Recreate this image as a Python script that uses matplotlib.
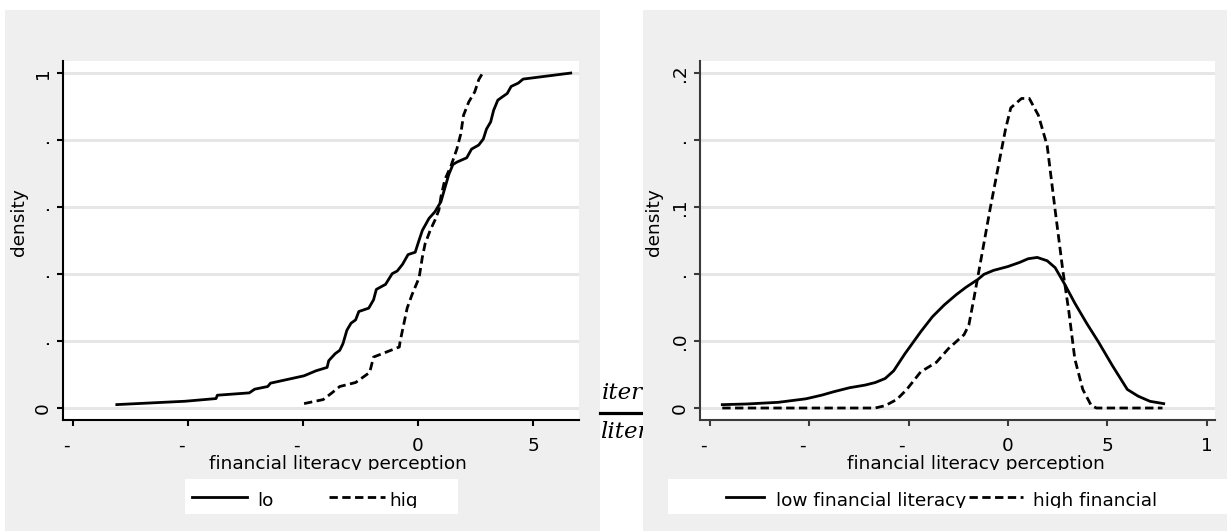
import matplotlib
matplotlib.use("Agg")
import matplotlib.pyplot as plt
from matplotlib.patches import Rectangle
from matplotlib.lines import Line2D
from matplotlib.transforms import Bbox

W, H = 1227, 531
FS = 13.3
PANEL = '#efefef'
GRID = '#e6e6e6'

# cumulative share by financial literacy perception
cdf_low_x = [-13.09, -10.12, -8.78, -8.72, -7.33, -7.10, -6.53, -6.41, -4.95, -4.43,
             -3.95, -3.88, -3.60, -3.40, -3.26, -3.09, -2.91, -2.71, -2.57, -2.14,
             -1.93, -1.81, -1.41, -1.12, -0.90, -0.67, -0.43, -0.12, 0.02, 0.19,
             0.48, 0.74, 1.00, 1.17, 1.34, 1.52, 1.69, 2.12, 2.33, 2.64,
             2.84, 2.98, 3.16, 3.29, 3.47, 3.67, 3.88, 4.05, 4.36, 4.57, 6.64]
cdf_low_y = [0.010, 0.020, 0.028, 0.038, 0.045, 0.056, 0.064, 0.074, 0.096, 0.111,
             0.121, 0.141, 0.162, 0.172, 0.192, 0.232, 0.253, 0.263, 0.288, 0.298,
             0.323, 0.354, 0.369, 0.401, 0.409, 0.429, 0.458, 0.465, 0.495, 0.530,
             0.566, 0.586, 0.616, 0.657, 0.697, 0.727, 0.734, 0.747, 0.773, 0.785,
             0.803, 0.833, 0.854, 0.889, 0.919, 0.929, 0.939, 0.960, 0.970, 0.982, 1.000]
cdf_high_x = [-4.95, -4.12, -3.74, -3.40, -2.71, -2.10, -1.93, -0.81, -0.78, -0.47,
              -0.26, 0.05, 0.19, 0.31, 0.53, 0.74, 0.91, 1.00, 1.17, 1.43,
              1.69, 1.86, 1.98, 2.21, 2.47, 2.64, 2.81]
cdf_high_y = [0.013, 0.025, 0.045, 0.064, 0.076, 0.106, 0.152, 0.182, 0.197, 0.298,
              0.338, 0.389, 0.450, 0.490, 0.530, 0.561, 0.591, 0.631, 0.682, 0.722,
              0.773, 0.818, 0.874, 0.914, 0.944, 0.980, 1.000]

# kernel density
kd_low_x = [-14.37, -13.14, -11.55, -10.16, -9.36, -8.77, -7.97, -7.18, -6.68, -6.18,
            -5.75, -5.19, -4.39, -3.80, -3.20, -2.60, -2.11, -1.51, -1.21, -0.72,
            -0.02, 0.58, 1.01, 1.47, 1.97, 2.37, 2.86, 3.36, 3.96, 4.55,
            5.25, 6.00, 6.54, 7.14, 7.83]
kd_low_y = [0.0020, 0.0024, 0.0034, 0.0055, 0.0077, 0.0097, 0.0121, 0.0137, 0.0152, 0.0176,
            0.0222, 0.0323, 0.0455, 0.0545, 0.0616, 0.0677, 0.0721, 0.0768, 0.0798, 0.0822,
            0.0844, 0.0869, 0.0891, 0.0899, 0.0879, 0.0838, 0.0737, 0.0626, 0.0505, 0.0394,
            0.0253, 0.0111, 0.0071, 0.0040, 0.0026]
kd_high_x = [-14.37, -6.68, -6.18, -5.59, -5.09, -4.39, -3.60, -3.00, -2.21, -1.97,
             -1.71, -1.31, -0.91, -0.42, -0.12, 0.14, 0.68, 1.07, 1.53, 1.97,
             2.37, 2.76, 3.06, 3.36, 3.76, 4.19, 4.45, 7.77]
kd_high_y = [0.0, 0.0, 0.0014, 0.0051, 0.0111, 0.0216, 0.0273, 0.0354, 0.0438, 0.0495,
             0.0657, 0.0919, 0.1182, 0.1485, 0.1667, 0.1792, 0.1848, 0.1848, 0.1747, 0.1566,
             0.1182, 0.0818, 0.0576, 0.0293, 0.0111, 0.0014, 0.0, 0.0]

left_xticks = [-15, -10, -5, 0, 5]
left_xlabels = ['-  ', '-  ', '-  ', '0', '5']
left_yticks = [0, 0.2, 0.4, 0.6, 0.8, 1]
left_ylabels = ['0', '.', '.', '.', '.', '1']
right_xticks = [-15, -10, -5, 0, 5, 10]
right_xlabels = ['-  ', '-  ', '-  ', '0', '5', '1']
right_yticks = [0, 0.04, 0.08, 0.12, 0.16, 0.2]
right_ylabels = ['0', '.0', '.', '.1', '.', '.2']


def fx(x):
    return x / W


def fy(y):
    return 1 - y / H


def clip_above(y):
    # keep only what lies above pixel row y
    return Bbox([[0, H - y], [W, H]])


fig = plt.figure(figsize=(W / 100, H / 100), dpi=100)
fig.patch.set_facecolor('white')

# gray panels behind each graph
fig.add_artist(Rectangle((fx(5), 0), fx(600) - fx(5), fy(10), transform=fig.transFigure,
                         facecolor=PANEL, edgecolor='none', zorder=-10))
fig.add_artist(Rectangle((fx(643), 0), 1 - fx(643), fy(10), transform=fig.transFigure,
                         facecolor=PANEL, edgecolor='none', zorder=-4))

# fraction between the panels, partly hidden by the right one
fig.text(fx(602), fy(399), 'iter', style='italic', family='DejaVu Serif', fontsize=16.5,
         va='baseline', zorder=-6)
fig.text(fx(600), fy(438), 'liter', style='italic', family='DejaVu Serif', fontsize=16.5,
         va='baseline', zorder=-6)
fig.add_artist(Line2D([fx(600), fx(670)], [fy(413), fy(413)], transform=fig.transFigure,
                      color='black', lw=2.3, zorder=-6))

ax1 = fig.add_axes([fx(63), fy(420), fx(579) - fx(63), fy(61) - fy(420)])
ax2 = fig.add_axes([fx(700), fy(420), fx(1215) - fx(700), fy(61) - fy(420)])

ax1.plot(cdf_low_x, cdf_low_y, color='black', lw=2.0, solid_joinstyle='round')
ax1.plot(cdf_high_x, cdf_high_y, color='black', lw=2.0, dashes=(3, 1.6))
ax1.set_xlim(-15.43, 7.0)
ax1.set_ylim(-0.036, 1.036)

ax2.plot(kd_low_x, kd_low_y, color='black', lw=2.0, solid_joinstyle='round')
ax2.plot(kd_high_x, kd_high_y, color='black', lw=2.0, dashes=(3, 1.6))
ax2.set_xlim(-15.49, 10.41)
ax2.set_ylim(-0.00716, 0.20716)

setup = [
    (ax1, left_xticks, left_xlabels, left_yticks, left_ylabels, 'black', 0.533, -0.0853),
    (ax2, right_xticks, right_xlabels, right_yticks, right_ylabels, '#3a3a3a', 0.535, -0.0893),
]
for ax, xt, xl, yt, yl, spc, xlab_x, ylab_x in setup:
    ax.set_facecolor('white')
    for s in ['top', 'right']:
        ax.spines[s].set_visible(False)
    for s in ['left', 'bottom']:
        ax.spines[s].set_color(spc)
        ax.spines[s].set_linewidth(1.5)
    ax.set_xticks(xt)
    ax.set_xticklabels(xl)
    ax.set_yticks(yt)
    ax.set_yticklabels(yl, rotation=90, va='center')
    ax.tick_params(axis='both', direction='out', length=4.3, width=1.5, color=spc,
                   labelsize=FS)
    ax.tick_params(axis='x', pad=8.0)
    ax.tick_params(axis='y', pad=3.6)
    ax.yaxis.grid(True, color=GRID, lw=2.2)
    ax.set_axisbelow(True)

    ax.set_xlabel('financial literacy perception', fontsize=FS)
    ax.xaxis.set_label_coords(xlab_x, -0.1365)
    ax.xaxis.label.set_va('baseline')
    ax.xaxis.label.set_clip_box(clip_above(470))
    ax.xaxis.label.set_clip_on(True)

    ax.set_ylabel('density', fontsize=FS)
    ax.yaxis.set_label_coords(ylab_x, 0.5515)
    ax.yaxis.label.set_va('center')

# legends: white strip with line keys, labels cut at the bottom
legends = [
    ((185, 458), [((192, 247), None, 'lo', 257), ((329, 385), (3, 1.6), 'hig', 389)]),
    ((668, 1227), [((726, 764), None, 'low financial literacy', 776),
                   ((969, 1023), (3, 1.6), 'high financial', 1033)]),
]
for (bx0, bx1), entries in legends:
    fig.add_artist(Rectangle((fx(bx0), fy(514)), fx(bx1) - fx(bx0), fy(479) - fy(514),
                             transform=fig.transFigure, facecolor='white',
                             edgecolor='none', zorder=1))
    for (lx0, lx1), dash, label, tx in entries:
        key = Line2D([fx(lx0), fx(lx1)], [fy(497), fy(497)], transform=fig.transFigure,
                     color='black', lw=2.0, zorder=2)
        if dash:
            key.set_dashes(dash)
        fig.add_artist(key)
        t = fig.text(fx(tx), fy(506.5), label, fontsize=FS, va='baseline', zorder=3)
        t.set_clip_box(clip_above(508))
        t.set_clip_on(True)

fig.savefig('out.png', dpi=100)
